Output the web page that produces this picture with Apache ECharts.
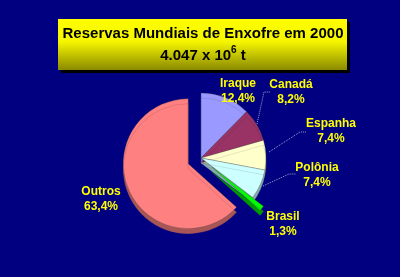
<!DOCTYPE html>
<html><head><meta charset="utf-8">
<script src="https://cdn.jsdelivr.net/npm/echarts@6/dist/echarts.min.js"></script>
<style>html,body{margin:0;padding:0;background:#000080}#c{width:400px;height:277px}</style>
</head><body><div id="c"></div>
<script>
// ---- data ----
const categories = ['Iraque', 'Canadá', 'Espanha', 'Polônia', 'Brasil', 'Outros'];
const shares = [12.4, 8.2, 7.4, 7.4, 1.3, 63.4];
const exploded = ['Brasil', 'Outros'];
const titleLine1 = 'Reservas Mundiais de Enxofre em 2000';
const titleBase = '4.047 x 10';
const titleExp = '6';
const titleUnit = ' t';

// ---- styles ----
const colors = ['#9999ff', '#993366', '#ffffcc', '#ccffff', '#00ff00', '#ff8080'];
const sideColors = ['#6666aa', '#66223f', '#a8a888', '#88aaaa', '#009900', '#a85555'];
const labelPos = {
  'Iraque': [238, 91], 'Canadá': [291, 92], 'Espanha': [331, 131],
  'Polônia': [317, 175], 'Brasil': [283, 224], 'Outros': [101, 199]
};
const linePts = {
  'Canadá': [[257, 124], [264, 92], [270, 92]],
  'Espanha': [[269, 152], [300, 132], [306, 132]],
  'Polônia': [[263, 186], [289, 174], [296, 174]]
};
const fmt = v => v.toFixed(1).replace('.', ',') + '%';

const pieCommon = {
  type: 'pie', center: [201, 158], radius: 65, startAngle: 90, clockwise: true,
  avoidLabelOverlap: false, emphasis: {disabled: true}
};

const chart = echarts.init(document.getElementById('c'), null, {renderer: 'canvas'});
chart.setOption({
  backgroundColor: '#000080',
  animation: false,
  graphic: [
    {type: 'rect', shape: {x: 61, y: 22, width: 289, height: 51}, style: {fill: '#000000'}, z: 1},
    {type: 'rect', shape: {x: 58, y: 19, width: 289, height: 51}, z: 2,
      style: {fill: new echarts.graphic.LinearGradient(0, 0, 0, 1, [
        {offset: 0, color: '#ffff00'}, {offset: 0.45, color: '#f5f500'}, {offset: 1, color: '#8a8a00'}])}},
    {type: 'text', z: 3, style: {
      x: 203, y: 45, align: 'center', verticalAlign: 'middle',
      text: '{a|' + titleLine1 + '}\n{a|' + titleBase + '}{s|' + titleExp + '}{a|' + titleUnit + '}',
      rich: {
        a: {fontSize: 15, fontWeight: 'bold', fontFamily: 'Liberation Sans, Arial', color: '#000', lineHeight: 22},
        s: {fontSize: 10, fontWeight: 'bold', fontFamily: 'Liberation Sans, Arial', color: '#000', lineHeight: 22, verticalAlign: 'top'}
      }
    }}
  ],
  series: [
    Object.assign({}, pieCommon, {
      selectedMode: 'multiple',
      selectedOffset: 14,
      label: {show: false},
      labelLine: {show: false},
      data: categories.map((n, i) => ({
        name: n, value: shares[i], selected: exploded.includes(n),
        itemStyle: {color: colors[i], shadowColor: sideColors[i], shadowOffsetY: 5, shadowBlur: 0,
          borderColor: 'rgba(60,60,60,0.6)', borderWidth: 0.5}
      }))
    }),
    Object.assign({}, pieCommon, {
      silent: true,
      selectedMode: false,
      z: 3,
      data: categories.map((n, i) => ({
        name: n, value: shares[i],
        itemStyle: {color: 'rgba(0,0,0,0)'},
        labelLine: {show: !!linePts[n]}
      })),
      label: {
        show: true,
        formatter: p => p.name + '\n' + fmt(shares[p.dataIndex]),
        color: '#ffff00', fontWeight: 'bold', fontSize: 12, lineHeight: 15,
        fontFamily: 'Liberation Sans, Arial', align: 'center',
        textShadowColor: '#000000', textShadowOffsetX: 1, textShadowOffsetY: 1, textShadowBlur: 0
      },
      labelLine: {lineStyle: {color: '#9aa6c8', width: 1, type: 'dotted'}},
      labelLayout: p => {
        const n = categories[p.dataIndex];
        const r = {x: labelPos[n][0], y: labelPos[n][1], align: 'center', verticalAlign: 'middle'};
        if (linePts[n]) r.labelLinePoints = linePts[n];
        return r;
      }
    })
  ]
});
</script></body></html>
